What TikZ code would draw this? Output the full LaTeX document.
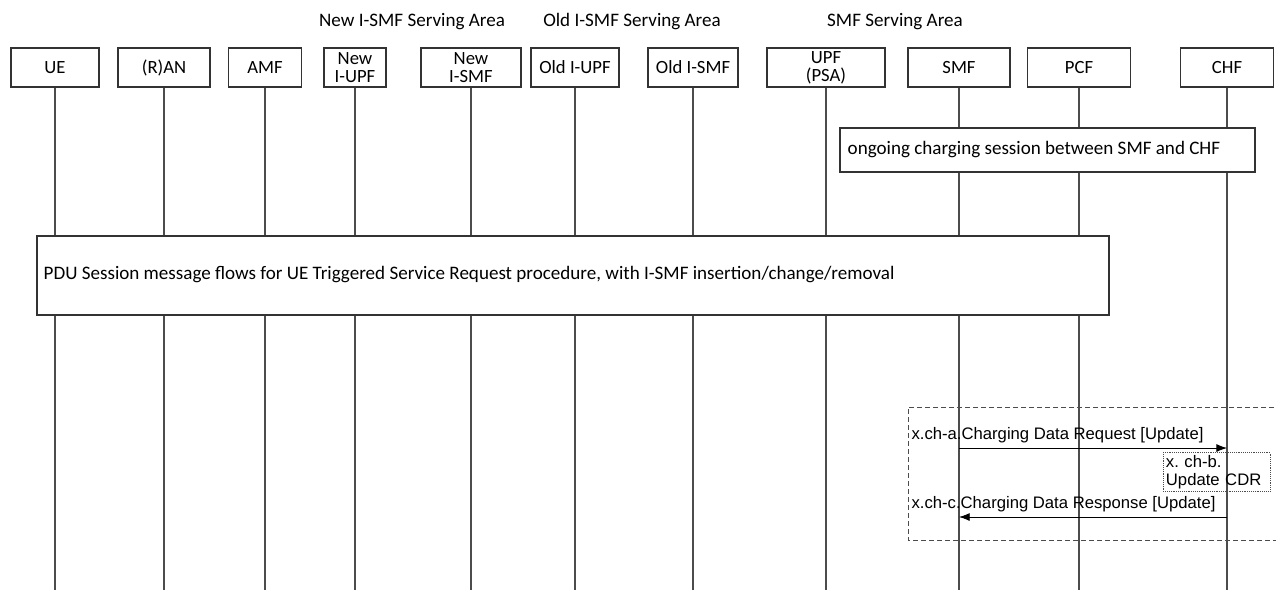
\documentclass[tikz,border=0pt]{standalone}
\usepackage{fontspec}
\setmainfont{Carlito}
\newfontfamily\msgfont{Liberation Sans}
\usetikzlibrary{arrows.meta,positioning}
\frenchspacing
\tikzset{
  entity/.style={draw=black!80, fill=white, line width=0.8pt, inner sep=0pt,
    minimum height=29.25pt, align=center, font=\fontsize{14}{13.5}\selectfont},
  lifeline/.style={draw=black!70, line width=0.8pt},
  areatext/.style={font=\fontsize{14.3}{14}\selectfont},
  notebox/.style={draw=black!80, fill=white, line width=0.8pt, inner sep=0pt},
  msg/.style={draw=black, line width=0.6pt, -{Latex[length=8pt,width=6pt]}},
  msgtext/.style={font=\msgfont\fontsize{12.5}{13.5}\selectfont, inner sep=1pt},
}
\begin{document}
\begin{tikzpicture}[x=0.75pt, y=-0.75pt]
  \useasboundingbox (0,0) rectangle (1276,590);
  \clip (0,0) rectangle (1276,590);
  % ── entidades y lineas de vida ──
  \foreach \n/\cx/\w/\t in {ue/55/88/UE, ran/164/92/(R)AN, amf/265/73/AMF,
      niupf/355/62/New\\I-UPF, nismf/471/100/New\\I-SMF, oiupf/575/88/Old I-UPF,
      oismf/693/90/Old I-SMF, upf/826/118/UPF\\(PSA), smf/959/102/SMF,
      pcf/1079/103/PCF, chf/1227/93/CHF} {
    \node[entity, minimum width=\w*0.75pt] (\n) at (\cx,67.5) {\t};
    \coordinate (\n-end) at (\cx,590);
    \draw[lifeline] (\n.south) -- (\n-end);
  }
  % ── areas de servicio ──
  \node[areatext] (newarea) at (412,22) {New I-SMF Serving Area};
  \node[areatext] (oldarea) at (632,22) {Old I-SMF Serving Area};
  \node[areatext] (smfarea) at (895,22) {SMF Serving Area};
  % ── sesion de tarificacion en curso ──
  \draw[notebox] (840,128) rectangle (1255,172);
  \node[areatext, anchor=west] (ongoing) at (843,150) {ongoing charging session between SMF and CHF};
  % ── flujos de la sesion PDU ──
  \draw[notebox] (37,236) rectangle (1109,315);
  \node[areatext, anchor=west] (pdu) at (39,275) {PDU Session message flows for UE Triggered Service Request procedure, with I-SMF insertion/change/removal};
  % ── bloque de tarificacion (discontinuo) ──
  \draw[black!70, line width=0.7pt, dash pattern=on 4pt off 2pt] (1290,407) -| (908,540) -- (1290,540);
  \coordinate (smf-a) at (smf.south |- 0,448);
  \coordinate (chf-a) at (chf.south |- 0,448);
  \coordinate (chf-c) at (chf.south |- 0,517);
  \coordinate (smf-c) at (smf.south |- 0,517);
  \draw[msg] (smf-a) -- (chf-a);
  \node[msgtext, anchor=south west] (reqtext) at (910,445) {x.ch-a.Charging Data Request [Update]};
  \node[msgtext, draw=black!70, densely dotted, anchor=north west, align=left,
        text width=76pt, inner sep=2pt, minimum height=27.75pt] (cdr) at (1163,452) {x. ch-b.\\Update CDR};
  \draw[msg] (chf-c) -- (smf-c);
  \node[msgtext, anchor=south west] (resptext) at (910,514) {x.ch-c.Charging Data Response [Update]};
\end{tikzpicture}
\end{document}
